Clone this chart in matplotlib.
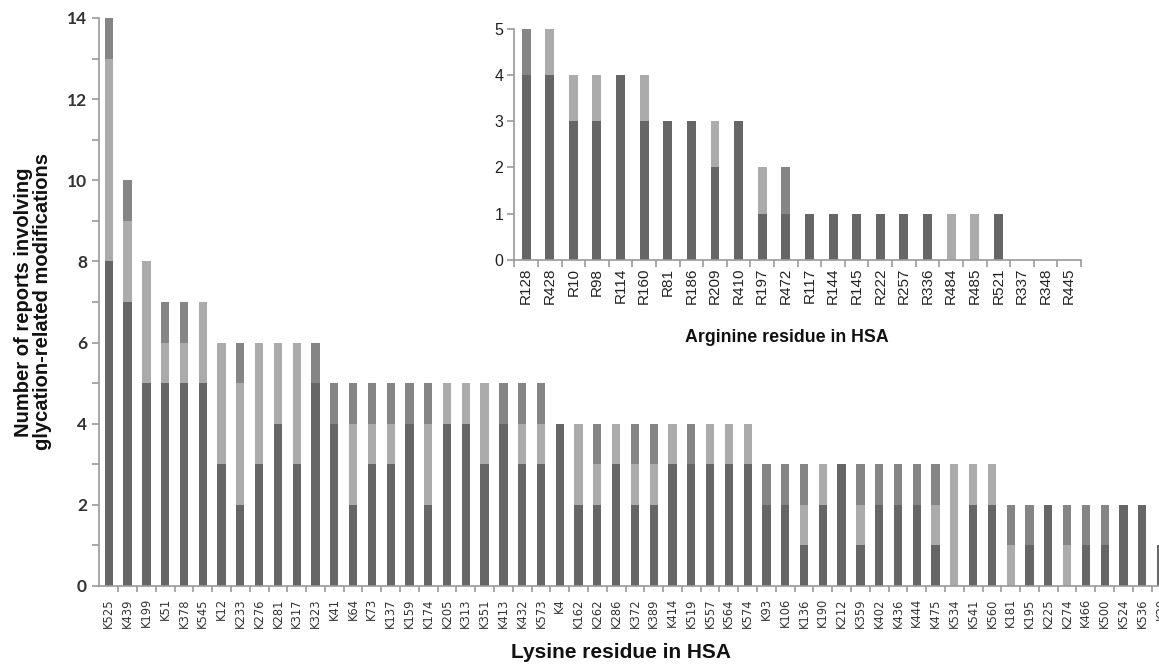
import matplotlib
matplotlib.use("Agg")
import matplotlib.pyplot as plt
import numpy as np
from matplotlib.ticker import MultipleLocator, FixedLocator, NullFormatter

# ---------------- data ----------------
lys_labels = ["K525", "K439", "K199", "K51", "K378", "K545", "K12", "K233", "K276", "K281",
              "K317", "K323", "K41", "K64", "K73", "K137", "K159", "K174", "K205", "K313",
              "K351", "K413", "K432", "K573", "K4", "K162", "K262", "K286", "K372", "K389",
              "K414", "K519", "K557", "K564", "K574", "K93", "K106", "K136", "K190", "K212",
              "K359", "K402", "K436", "K444", "K475", "K534", "K541", "K560", "K181", "K195",
              "K225", "K274", "K466", "K500", "K524", "K536", "K20"]
lys_dark = [8, 7, 5, 5, 5, 5, 3, 2, 3, 4,
            3, 5, 4, 2, 3, 3, 4, 2, 4, 4,
            3, 4, 3, 3, 4, 2, 2, 3, 2, 2,
            3, 3, 3, 3, 3, 2, 2, 1, 2, 3,
            1, 2, 2, 2, 1, 0, 2, 2, 0, 1,
            2, 0, 1, 1, 2, 2, 1]
lys_light = [5, 2, 3, 1, 1, 2, 3, 3, 3, 2,
             3, 0, 0, 2, 1, 1, 0, 2, 1, 1,
             2, 0, 1, 1, 0, 2, 1, 1, 1, 1,
             1, 0, 1, 1, 1, 0, 0, 1, 1, 0,
             1, 0, 0, 0, 1, 3, 1, 1, 1, 0,
             0, 1, 0, 0, 0, 0, 0]
lys_mid = [1, 1, 0, 1, 1, 0, 0, 1, 0, 0,
           0, 1, 1, 1, 1, 1, 1, 1, 0, 0,
           0, 1, 1, 1, 0, 0, 1, 0, 1, 1,
           0, 1, 0, 0, 0, 1, 1, 1, 0, 0,
           1, 1, 1, 1, 1, 0, 0, 0, 1, 1,
           0, 1, 1, 1, 0, 0, 0]

arg_labels = ["R128", "R428", "R10", "R98", "R114", "R160", "R81", "R186", "R209", "R410",
              "R197", "R472", "R117", "R144", "R145", "R222", "R257", "R336", "R484", "R485",
              "R521", "R337", "R348", "R445"]
arg_dark = [4, 4, 3, 3, 4, 3, 3, 3, 2, 3, 1, 1, 1, 1, 1, 1, 1, 1, 0, 0, 1, 0, 0, 0]
arg_light = [0, 1, 1, 1, 0, 1, 0, 0, 1, 0, 1, 0, 0, 0, 0, 0, 0, 0, 1, 1, 0, 0, 0, 0]
arg_mid = [1, 0, 0, 0, 0, 0, 0, 0, 0, 0, 0, 1, 0, 0, 0, 0, 0, 0, 0, 0, 0, 0, 0, 0]

# ---------------- style ----------------
C_DARK = "#666666"
C_LIGHT = "#ababab"
C_MID = "#858585"
AX_COL = "#9a9a9a"

W, H = 1159, 664
fig = plt.figure(figsize=(W / 100, H / 100), dpi=100)


def stacked(ax, dark, light, mid, width):
    x = np.arange(len(dark))
    d = np.array(dark, float)
    l = np.array(light, float)
    m = np.array(mid, float)
    ax.bar(x, d, width, color=C_DARK, linewidth=0)
    ax.bar(x, l, width, bottom=d, color=C_LIGHT, linewidth=0)
    ax.bar(x, m, width, bottom=d + l, color=C_MID, linewidth=0)
    return x


def style_axes(ax):
    for s in ("top", "right"):
        ax.spines[s].set_visible(False)
    for s in ("left", "bottom"):
        ax.spines[s].set_color(AX_COL)
        ax.spines[s].set_linewidth(1.2)


# ---------------- main axes ----------------
n = len(lys_labels)
spacing = 18.79
left_px = 99.4
ax = fig.add_axes([left_px / W, 78 / H, n * spacing / W, 568 / H])
x = stacked(ax, lys_dark, lys_light, lys_mid, 0.44)
ax.set_xlim(-0.5, n - 0.5)
ax.set_ylim(0, 14)
style_axes(ax)

ax.yaxis.set_major_locator(MultipleLocator(2))
ax.yaxis.set_minor_locator(MultipleLocator(1))
ax.tick_params(axis="y", which="both", direction="out", length=5, width=1.2,
               color=AX_COL, pad=4)
for t in ax.get_yticklabels():
    t.set_fontfamily("Lato")
    t.set_fontweight("bold")
    t.set_fontsize(12.5)
    t.set_color("#333333")

ax.xaxis.set_major_locator(FixedLocator(np.arange(n) + 0.5))
ax.xaxis.set_major_formatter(NullFormatter())
ax.tick_params(axis="x", which="major", direction="out", length=4, width=1.2, color=AX_COL)
for i, lab in enumerate(lys_labels):
    ax.text(i, -0.3, lab, rotation=90, ha="center", va="top", fontsize=8.3,
            family="DejaVu Sans", color="#333333", clip_on=False)

ax.text((621 - left_px) / (n * spacing), -67 / 568, "Lysine residue in HSA",
        transform=ax.transAxes, ha="center", va="center", fontsize=15,
        fontweight="bold", family="Liberation Sans", color="#111111")

fig.text(33 / W, 1 - 302 / H, "Number of reports involving\nglycation-related modifications",
         rotation=90, ha="center", va="center", fontsize=14.5, fontweight="bold",
         family="Liberation Sans", color="#111111", linespacing=1.0)

# ---------------- inset ----------------
na = len(arg_labels)
ia_left = 514.3
ia_w = 566.7
ax2 = fig.add_axes([ia_left / W, (H - 260) / H, ia_w / W, 231.3 / H])
stacked(ax2, arg_dark, arg_light, arg_mid, 0.38)
ax2.set_xlim(-0.5, na - 0.5)
ax2.set_ylim(0, 5)
style_axes(ax2)
ax2.yaxis.set_major_locator(MultipleLocator(1))
ax2.tick_params(axis="y", direction="out", length=5, width=1.2, color=AX_COL,
                labelsize=11.5, labelcolor="#222222", pad=3)
ax2.xaxis.set_major_locator(FixedLocator(np.arange(na + 1) - 0.5))
ax2.xaxis.set_major_formatter(NullFormatter())
ax2.tick_params(axis="x", direction="out", length=5, width=1.2, color=AX_COL)
for t in ax2.get_yticklabels():
    t.set_fontfamily("Liberation Sans")
for i, lab in enumerate(arg_labels):
    ax2.text(i, -0.17, lab, rotation=90, ha="center", va="top", fontsize=11,
             family="Liberation Sans", color="#222222", clip_on=False)
ax2.text((787 - ia_left) / ia_w, -(338 - 260) / 231.3, "Arginine residue in HSA",
         transform=ax2.transAxes, ha="center", va="center", fontsize=12.8,
         fontweight="bold", family="Liberation Sans", color="#111111")

fig.savefig("out.png", dpi=100)
